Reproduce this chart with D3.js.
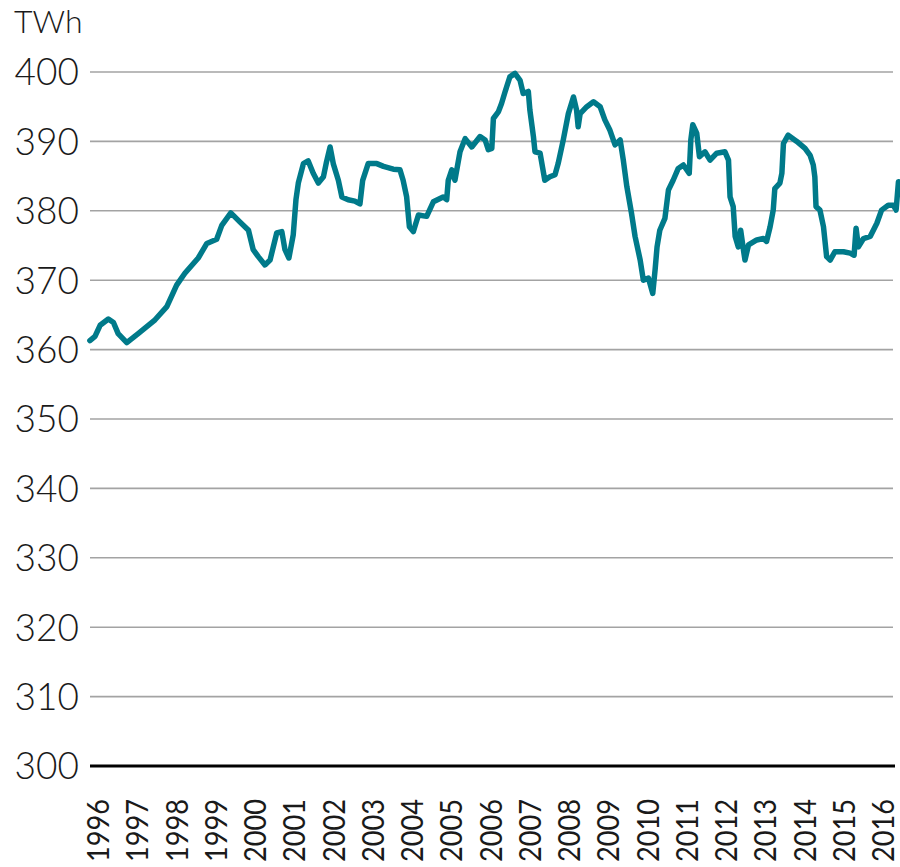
<!DOCTYPE html>
<html>
<head>
<meta charset="utf-8">
<script src="https://cdn.jsdelivr.net/npm/d3@7"></script>
<style>
  body { margin: 0; background: #fff; }
  svg text { font-family: Lato, "Open Sans", sans-serif; font-weight: 300; fill: #1a1a1a; }
</style>
</head>
<body>
<svg width="900" height="867"></svg>
<script>
// time as decimal year, values in TWh
var dates = [1995.87,1996.00,1996.13,1996.34,1996.47,1996.59,1996.81,1997.10,1997.53,1997.83,
  1998.08,1998.29,1998.63,1998.85,1999.10,1999.23,1999.46,1999.69,1999.91,2000.03,
  2000.16,2000.33,2000.46,2000.63,2000.76,2000.84,2000.94,2001.05,2001.12,2001.18,
  2001.31,2001.43,2001.56,2001.69,2001.82,2001.90,2001.99,2002.07,2002.20,2002.29,
  2002.45,2002.62,2002.75,2002.82,2002.96,2003.18,2003.35,2003.60,2003.77,2003.85,
  2003.94,2004.01,2004.11,2004.24,2004.45,2004.62,2004.87,2004.96,2005.00,2005.09,
  2005.17,2005.30,2005.43,2005.60,2005.81,2005.94,2006.02,2006.11,2006.15,2006.28,
  2006.36,2006.45,2006.57,2006.70,2006.83,2006.91,2007.04,2007.08,2007.17,2007.21,
  2007.34,2007.46,2007.59,2007.72,2007.80,2007.93,2008.06,2008.19,2008.27,2008.31,
  2008.36,2008.53,2008.70,2008.87,2008.99,2009.12,2009.25,2009.38,2009.46,2009.55,
  2009.67,2009.76,2009.89,2009.97,2010.10,2010.21,2010.27,2010.32,2010.39,2010.52,
  2010.61,2010.73,2010.86,2010.99,2011.14,2011.18,2011.23,2011.33,2011.40,2011.54,
  2011.67,2011.84,2012.05,2012.14,2012.18,2012.26,2012.31,2012.39,2012.45,2012.52,
  2012.56,2012.65,2012.86,2013.03,2013.11,2013.20,2013.28,2013.32,2013.45,2013.50,
  2013.54,2013.66,2013.88,2014.09,2014.22,2014.30,2014.34,2014.37,2014.47,2014.56,
  2014.64,2014.73,2014.85,2015.07,2015.24,2015.34,2015.39,2015.45,2015.58,2015.75,
  2015.92,2016.04,2016.21,2016.34,2016.41,2016.47];

var values = [361.3,361.9,363.5,364.4,363.9,362.3,361.0,362.3,364.3,366.2,
  369.3,371.0,373.2,375.3,375.9,377.9,379.7,378.4,377.2,374.4,
  373.4,372.2,372.9,376.8,377.0,374.4,373.2,376.5,381.6,384.0,
  386.8,387.2,385.4,384.0,384.9,387.1,389.2,386.8,384.4,382.0,
  381.6,381.4,381.0,384.4,386.8,386.8,386.4,386.0,385.9,384.4,
  382.0,377.7,377.0,379.4,379.2,381.3,382.0,381.6,384.4,385.9,
  384.4,388.5,390.4,389.2,390.7,390.2,388.8,389.0,393.3,394.3,
  395.5,397.2,399.3,399.8,398.8,396.9,397.2,394.5,390.7,388.5,
  388.3,384.4,384.9,385.2,386.8,390.2,394.0,396.4,394.5,392.1,
  394.0,395.0,395.7,395.0,393.1,391.6,389.5,390.2,387.3,383.5,
  379.6,376.3,372.9,370.0,370.3,368.1,371.5,374.8,377.2,378.9,
  383.0,384.4,386.1,386.6,385.4,390.2,392.4,391.2,387.8,388.5,
  387.3,388.3,388.5,387.3,382.0,380.6,376.3,374.8,377.2,374.4,
  372.9,375.1,375.8,376.0,375.6,377.7,380.1,383.2,384.0,385.4,
  389.7,390.9,390.0,389.0,388.0,386.6,384.9,380.6,380.1,377.7,
  373.4,372.9,374.1,374.1,373.9,373.6,377.5,374.8,376.0,376.3,
  378.2,380.1,380.8,380.8,380.1,384.2];

var years = d3.range(1996, 2017);
var yTicks = [300,310,320,330,340,350,360,370,380,390,400];
var unit = "TWh";

var svg = d3.select("svg");

var x = d3.scaleLinear().domain([1996, 2016]).range([95, 880]);
var y = d3.scaleLinear().domain([300, 400]).range([766, 72]);

// horizontal gridlines
svg.append("g")
  .selectAll("line")
  .data(yTicks.filter(function(d) { return d > 300; }))
  .enter().append("line")
    .attr("x1", 90)
    .attr("x2", 893)
    .attr("y1", function(d) { return y(d); })
    .attr("y2", function(d) { return y(d); })
    .attr("stroke", "#a3a3a3")
    .attr("stroke-width", 1.6);

// y labels
svg.append("g")
  .selectAll("text")
  .data(yTicks)
  .enter().append("text")
    .attr("x", 79)
    .attr("y", function(d) { return y(d); })
    .attr("dy", "0.36em")
    .attr("text-anchor", "end")
    .style("font-size", "37px")
    .text(function(d) { return d; });

svg.append("text")
  .attr("x", 14)
  .attr("y", 33)
  .style("font-size", "32px")
  .text(unit);

// data line
var line = d3.line()
  .x(function(d) { return x(d[0]); })
  .y(function(d) { return y(d[1]); });

svg.append("path")
  .datum(d3.zip(dates, values))
  .attr("d", line)
  .attr("fill", "none")
  .attr("stroke", "#007a8a")
  .attr("stroke-width", 5.5)
  .attr("stroke-linejoin", "round")
  .attr("stroke-linecap", "round");

// base axis
svg.append("line")
  .attr("x1", 90)
  .attr("x2", 895)
  .attr("y1", y(300))
  .attr("y2", y(300))
  .attr("stroke", "#000")
  .attr("stroke-width", 3);

// x labels (rotated)
svg.append("g")
  .selectAll("text")
  .data(years)
  .enter().append("text")
    .attr("transform", function(d) { return "translate(" + x(d) + ",862) rotate(-90)"; })
    .attr("dy", "0.47em")
    .attr("text-anchor", "start")
    .attr("textLength", 63)
    .attr("lengthAdjust", "spacingAndGlyphs")
    .style("font-size", "30px")
    .style("font-weight", 400)
    .text(function(d) { return d; });
</script>
</body>
</html>
